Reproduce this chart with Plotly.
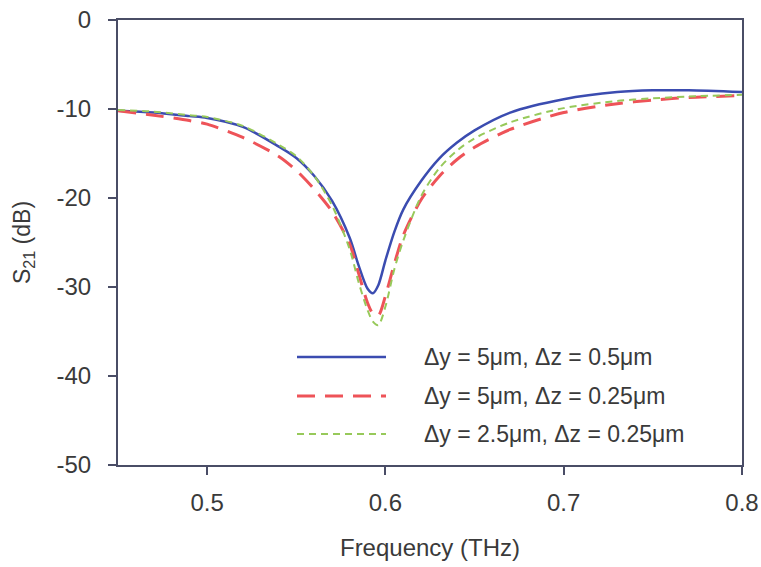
import plotly.graph_objects as go

freq = [0.45, 0.47, 0.49, 0.50, 0.52, 0.54, 0.55, 0.56, 0.57, 0.58, 0.585, 0.59, 0.593, 0.596, 0.60, 0.605, 0.61, 0.62, 0.63, 0.64, 0.65, 0.67, 0.70, 0.73, 0.75, 0.77, 0.80]

s21_blue = [-10.2, -10.4, -10.8, -11.0, -12.0, -14.2, -15.5, -17.5, -20.3, -24.5, -27.6, -30.2, -30.7, -29.8, -27.0, -23.8, -21.3, -18.1, -15.6, -13.8, -12.4, -10.4, -8.9, -8.1, -7.9, -7.9, -8.1]
s21_red = [-10.2, -10.7, -11.3, -11.7, -13.2, -15.3, -16.9, -19.0, -21.5, -25.2, -28.5, -31.8, -33.0, -33.2, -31.0, -27.4, -24.2, -20.2, -17.6, -15.7, -14.3, -12.3, -10.4, -9.4, -9.0, -8.7, -8.5]
s21_green = [-10.1, -10.3, -10.7, -10.9, -11.9, -14.0, -15.3, -17.5, -20.8, -25.8, -29.5, -32.6, -33.9, -34.3, -32.2, -28.0, -24.8, -19.8, -16.7, -14.7, -13.3, -11.5, -9.9, -9.1, -8.8, -8.6, -8.4]

series_names = ["Δy = 5μm, Δz = 0.5μm", "Δy = 5μm, Δz = 0.25μm", "Δy = 2.5μm, Δz = 0.25μm"]
colors = ["#3b4cb0", "#ee5358", "#97c95a"]
dashes = ["solid", "18px,10px", "7px,5px"]
widths = [2.5, 3, 2]

x_ticks = [0.5, 0.6, 0.7, 0.8]
y_ticks = [0, -10, -20, -30, -40, -50]

fig = go.Figure()
for ys, name, c, d, w in zip([s21_blue, s21_red, s21_green], series_names, colors, dashes, widths):
    fig.add_trace(go.Scatter(x=freq, y=ys, mode="lines", name=name,
                             line=dict(color=c, dash=d, width=w, shape="spline", smoothing=0.8),
                             showlegend=False))

axis_color = "#4a4d66"
font_color = "#3a3a3a"
W, H = 761, 567
l, r, t, b = 118, 19, 20, 102
fig.update_layout(
    width=W, height=H,
    margin=dict(l=l, r=r, t=t, b=b),
    plot_bgcolor="white", paper_bgcolor="white",
    font=dict(family="Liberation Sans, Arial, sans-serif", size=24, color=font_color),
)
fig.update_xaxes(range=[0.45, 0.8], tickvals=x_ticks, ticktext=[str(v) for v in x_ticks],
                 showgrid=False, zeroline=False, showline=True, linecolor=axis_color, linewidth=2,
                 mirror=True, ticks="outside", ticklen=8, tickwidth=2, tickcolor=axis_color,
                 tickfont=dict(size=24), ticklabelstandoff=7, automargin=False,
                 title=dict(text="Frequency (THz)", standoff=24, font=dict(size=24)))
fig.update_yaxes(range=[-50, 0], tickvals=y_ticks, ticktext=[str(v) for v in y_ticks],
                 showgrid=False, zeroline=False, showline=True, linecolor=axis_color, linewidth=2,
                 mirror=True, ticks="outside", ticklen=8, tickwidth=2, tickcolor=axis_color,
                 tickfont=dict(size=24), ticklabelstandoff=12, automargin=False,
                 title=dict(text="S<sub>21</sub> (dB)", standoff=19, font=dict(size=23)))

# Manual legend (long line samples as in the reference)
pw, ph = W - l - r, H - t - b
def px(xp):
    return (xp - l) / pw
def py(yp):
    return 1 - (yp - t) / ph

legend_rows = [357, 396, 434]
for yrow, name, c, d, w in zip(legend_rows, series_names, colors, dashes, widths):
    fig.add_shape(type="line", xref="paper", yref="paper",
                  x0=px(297), x1=px(386), y0=py(yrow), y1=py(yrow),
                  line=dict(color=c, dash=d, width=w))
    fig.add_annotation(xref="paper", yref="paper", x=px(422), y=py(yrow), text=name,
                       showarrow=False, xanchor="left", yanchor="middle",
                       font=dict(size=23, color=font_color))

fig.write_html("out.html", config={"displayModeBar": False},
               post_script="document.body.style.margin='0';")
